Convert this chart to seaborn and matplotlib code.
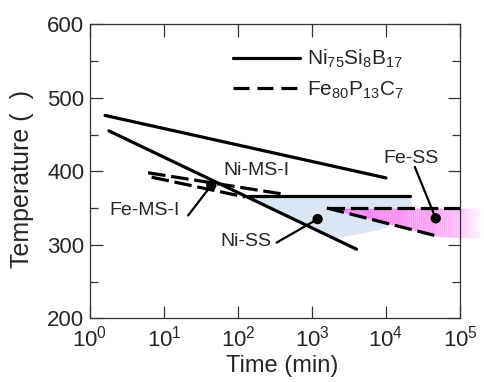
import numpy as np
import pandas as pd
import matplotlib
matplotlib.use('Agg')
import matplotlib.pyplot as plt
import seaborn as sns
from matplotlib.ticker import MultipleLocator, NullLocator, FixedLocator, FuncFormatter
from matplotlib.lines import Line2D
from matplotlib.colors import to_rgb

# ---------------- data ----------------
ni_upper_t = [1.6, 1.0e4]
ni_upper_T = [476, 391]
ni_lower_t = [1.8, 4.0e3]
ni_lower_T = [455, 294]
ni_flat_t = [137, 2.1e4]
ni_flat_T = [367, 367]

fe_upper_t = [6.1, 405]
fe_upper_T = [398, 369]
fe_lower_t = [6.8, 125]
fe_lower_T = [392, 365]
fe_flat_t = [1590, 1.0e5]
fe_flat_T = [350, 350]
fe_diag_t = [1590, 5.3e4]
fe_diag_T = [350, 311]

ni_ss_region_t = [137, 2.1e4, 2.25e4, 1.6e4, 8.0e3, 2.2e3]
ni_ss_region_T = [366, 367, 352, 331, 320, 309]

fe_ss_region_t = [1590, 5.3e4, 1.85e5]
fe_ss_region_top = [350, 350, 350]
fe_ss_region_bot = [350, 311, 309]

dot_names = ['Fe-MS-I', 'Ni-SS', 'Fe-SS']
dot_t = [43.6, 1190, 4.7e4]
dot_T = [381, 335, 336]
leader_t = [21.2, 333, 2.45e4]
leader_T = [340, 303, 406]
label_names = ['Fe-MS-I', 'Ni-MS-I', 'Ni-SS', 'Fe-SS']
label_t = [5.4, 180, 128, 2.2e4]
label_T = [347, 401, 305, 417]

x_ticks = [1, 10, 100, 1e3, 1e4, 1e5]
y_ticks = [200, 300, 400, 500, 600]
legend_labels = [r'Ni$_{75}$Si$_{8}$B$_{17}$', r'Fe$_{80}$P$_{13}$C$_{7}$']

# ---------------- style ----------------
sns.set_style('ticks')
plt.rcParams['font.family'] = ['Liberation Sans', 'DejaVu Sans']
plt.rcParams['mathtext.fontset'] = 'custom'
plt.rcParams['mathtext.rm'] = 'Liberation Sans'
plt.rcParams['mathtext.it'] = 'Liberation Sans:italic'
plt.rcParams['mathtext.bf'] = 'Liberation Sans:bold'
plt.rcParams['mathtext.default'] = 'regular'

fig = plt.figure(figsize=(4.85, 3.82), dpi=100)
ax = fig.add_axes([90/485, (382-318.3)/382, 370/485, 294/382])
ax.set_xscale('log')

LW = 2.3
DASH = (5.5, 1.8)

# blue region (Ni-SS)
ax.fill(ni_ss_region_t, ni_ss_region_T, color='#dbe6f5', lw=0, zorder=1)

# magenta gradient region (Fe-SS)
lt = np.log10(fe_ss_region_t)
edges = np.linspace(lt[0], lt[-1], 80)
c0 = np.array(to_rgb('#f882f2'))
cm = np.array(to_rgb('#fbb0f7'))
c1 = np.array(to_rgb('#fff2ff'))
for i in range(len(edges) - 1):
    xs = np.array([edges[i], edges[i+1]])
    f = (xs.mean() - lt[0]) / (lt[-1] - lt[0])
    if f < 0.8:
        col = c0 + (cm - c0) * (f / 0.8) ** 2
    else:
        col = cm + (c1 - cm) * ((f - 0.8) / 0.2)
    top = np.interp(xs, lt, fe_ss_region_top)
    bot = np.interp(xs, lt, fe_ss_region_bot)
    ax.fill_between(10 ** xs, bot, top, color=col, lw=0, clip_on=False, zorder=1)

# lines
for t, T in [(ni_upper_t, ni_upper_T), (ni_lower_t, ni_lower_T), (ni_flat_t, ni_flat_T)]:
    sns.lineplot(x=t, y=T, ax=ax, color='black', lw=LW, legend=False, zorder=3)
for t, T in [(fe_upper_t, fe_upper_T), (fe_lower_t, fe_lower_T),
             (fe_flat_t, fe_flat_T), (fe_diag_t, fe_diag_T)]:
    sns.lineplot(x=t, y=T, ax=ax, color='black', lw=LW, legend=False, zorder=3,
                 dashes=False, linestyle=(0, DASH))

# leaders and dots
for i in range(len(dot_names)):
    ax.plot([leader_t[i], dot_t[i]], [leader_T[i], dot_T[i]], color='black', lw=1.6, zorder=4)
sns.scatterplot(x=dot_t, y=dot_T, ax=ax, color='black', s=55, edgecolor='none', zorder=5, legend=False)

for name, t, T in zip(label_names, label_t, label_T):
    ax.text(t, T, name, fontsize=14, ha='center', va='center', zorder=6)

# axes
ax.set_xlim(1, 1e5)
ax.set_ylim(200, 600)
ax.xaxis.set_major_locator(FixedLocator(x_ticks))
ax.xaxis.set_minor_locator(NullLocator())
ax.xaxis.set_major_formatter(FuncFormatter(lambda v, p: r'$10^{%d}$' % round(np.log10(v))))
ax.yaxis.set_major_locator(FixedLocator(y_ticks))
ax.yaxis.set_minor_locator(MultipleLocator(50))
ax.tick_params(which='both', direction='in', top=True, right=True, color='#333333', width=0.9)
ax.tick_params(which='major', length=9, labelsize=16, pad=4)
ax.tick_params(axis='x', which='major', pad=5)
ax.tick_params(which='minor', length=5.5)
for s in ax.spines.values():
    s.set_color('#333333')
    s.set_linewidth(0.9)

ax.set_xlabel('Time (min)', fontsize=17)
ax.set_ylabel('Temperature (  )', fontsize=18)
ax.xaxis.set_label_coords((282-90)/370, (318.3-355)/294)
ax.yaxis.set_label_coords((34-90)/370, (318.3-179)/294)

handles = [Line2D([], [], color='black', lw=LW),
           Line2D([], [], color='black', lw=LW, linestyle=(0, (5, 2.5)))]
ax.legend(handles, legend_labels, loc='upper left', bbox_to_anchor=((233-90)/370, (318.3-48)/294),
          frameon=False, fontsize=15, handlelength=3.2, handletextpad=0.35,
          labelspacing=0.45, borderpad=0, borderaxespad=0)

fig.savefig('out.png', dpi=100)
